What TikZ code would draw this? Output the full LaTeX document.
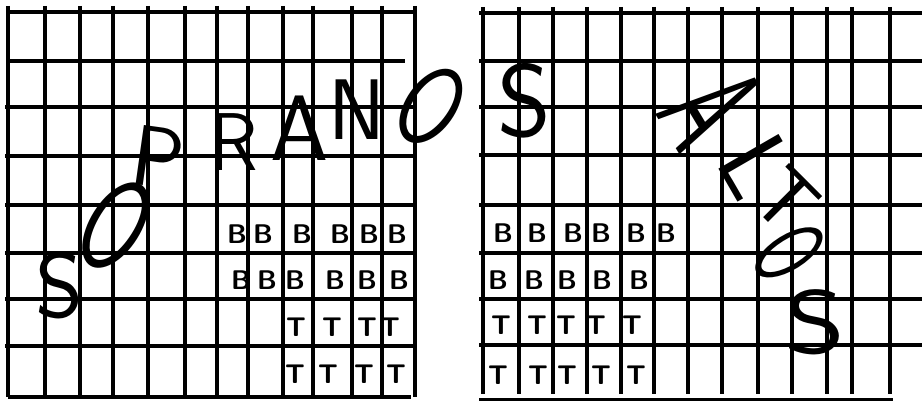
\documentclass[tikz,border=0pt]{standalone}
\usepackage{fontspec}
\begin{document}
\begin{tikzpicture}[x=1pt,y=-1pt,
  gl/.style={line width=3.3pt},
  hand/.style={font=\sffamily\fontsize{#1}{#1}\selectfont, inner sep=0pt},
  bee/.style={font=\sffamily\bfseries\fontsize{27}{27}\selectfont, inner sep=0pt}]
\useasboundingbox (0,0) rectangle (922,401);
\fill[white] (0,0) rectangle (922,401);
% left grid
\foreach \x in {8,45,80,113,148,185,217,248,283,313,352,382,415}
  \draw[gl] (\x,6) -- (\x,397);
\foreach \y in {107,156,205,253,299,346}
  \draw[gl] (5,\y) -- (414,\y);
\draw[gl] (8,12) -- (415,12);
\draw[gl] (8,61) -- (405,61);
\draw[gl] (8,397) -- (411,397);
% right grid
\foreach \x in {483,519,553,587,621,654,688,722,758,792,827,852,890}
  \draw[gl] (\x,7) -- (\x,394);
\foreach \y in {13,61,107,155,205,253,299,345}
  \draw[gl] (479,\y) -- (922,\y);
\draw[gl] (479,400) -- (893,400);
% SOPRANOS
\node[hand=92] (s1) at (60,286) {S};
\node[hand=108, rotate=-32] (o1) at (116,226) {\scalebox{0.8}[1.22]{O}};
\node[hand=86, rotate=-8] (p1) at (158,158) {P};
\node[hand=82] (r1) at (233,142) {R};
\node[hand=93] (a1) at (300,128) {A};
\node[hand=86] (n1) at (357,110) {N};
\node[hand=105, rotate=-35] (o2) at (431,106) {\scalebox{0.8}[1.1]{O}};
\node[hand=103] (s2) at (524,101) {S};
% ALTOS
\node[hand=150, rotate=-59] (a2) at (712,108) {\scalebox{0.55}[1]{A}};
\node[hand=100, rotate=-60] (l2) at (757,166) {L};
\node[hand=82, rotate=-45] (t2) at (786,200) {T};
\node[hand=100, rotate=-58] (o3) at (789,253) {\scalebox{0.6}[1.05]{O}};
\node[hand=90] (s3) at (815,322) {\scalebox{1.3}[1]{S}};
% left B / T
\foreach \x [count=\i] in {237,263,302,340,369,397}
  \node[bee] (lbA\i) at (\x,234) {B};
\foreach \x [count=\i] in {241,267,295,335,367,399}
  \node[bee] (lbB\i) at (\x,280) {B};
\foreach \x [count=\i] in {296,332,367,390}
  \node[bee] (ltA\i) at (\x,327) {T};
\foreach \x [count=\i] in {295,328,364,396}
  \node[bee] (ltB\i) at (\x,374) {T};
% right B / T
\foreach \x [count=\i] in {503,537,573,601,636,666}
  \node[bee] (rbA\i) at (\x,233) {B};
\foreach \x [count=\i] in {498,534,567,602,639}
  \node[bee] (rbB\i) at (\x,280) {B};
\foreach \x [count=\i] in {501,537,566,596,632}
  \node[bee] (rtA\i) at (\x,325) {T};
\foreach \x [count=\i] in {498,538,567,601,636}
  \node[bee] (rtB\i) at (\x,375) {T};
\end{tikzpicture}
\end{document}
